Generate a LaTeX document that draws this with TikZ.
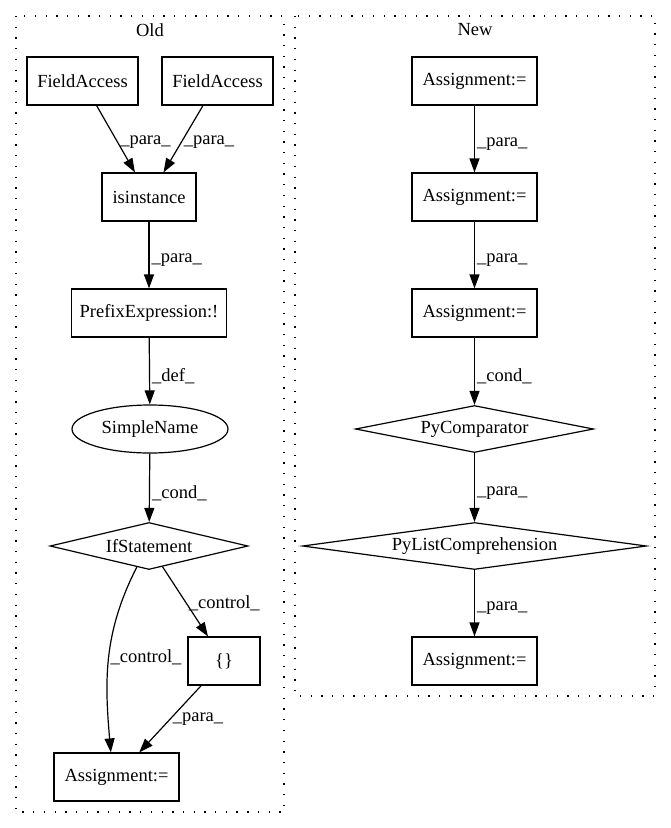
\documentclass[tikz,border=0pt]{standalone}
\usepackage{fontspec}
\setmainfont{Liberation Serif}
\usetikzlibrary{shapes.geometric,arrows.meta}
\begin{document}
\begin{tikzpicture}[x=1pt, y=-1pt, line width=1.2pt,
    font=\fontsize{18.5}{22}\selectfont,
    box/.style={draw, rectangle, minimum height=48pt, inner sep=0pt},
    cnd/.style={draw, diamond, minimum height=47pt, inner sep=0pt},
    ell/.style={draw, ellipse, minimum height=48pt, inner sep=0pt},
    lbl/.style={right, inner sep=2pt},
    flow/.style={-{Triangle[length=14pt,width=10pt]}},
    clus/.style={line width=1.3pt, dash pattern=on 1.3pt off 9.4pt}]
    \useasboundingbox (0,0) rectangle (671,828);
    \draw[clus] (16,16) rectangle (284,812);
    \draw[clus] (295,16) rectangle (655,696);
    \node (old) at (150,30) {Old};
    \node (new) at (475,30) {New};

    \node[box, minimum width=111pt] (fa1) at (82.5,81) {FieldAccess};
    \node[box, minimum width=111pt] (fa2) at (217.5,81) {FieldAccess};
    \node[box, minimum width=94pt] (isi) at (149,197) {isinstance};
    \node[box, minimum width=155pt] (pre) at (149,313) {PrefixExpression:!};
    \node[ell, minimum width=156pt] (sn) at (150,429) {SimpleName};
    \node[cnd, aspect=4.2, minimum width=198pt] (ifs) at (149,546) {IfStatement};
    \node[box, minimum width=72pt] (blk) at (224,661) {\{\}};
    \node[box, minimum width=125pt] (oasg) at (116.5,777) {Assignment:=};

    \draw[flow] (fa1) -- node[lbl, pos=0.55] {\_para\_} (isi);
    \draw[flow] (fa2) -- node[lbl, pos=0.55] {\_para\_} (isi);
    \draw[flow] (isi) -- node[lbl, pos=0.58] {\_para\_} (pre);
    \draw[flow] (pre) -- node[lbl, pos=0.58] {\_def\_} (sn);
    \draw[flow] (sn) -- node[lbl, pos=0.58] {\_cond\_} (ifs);
    \draw[flow] (ifs) -- node[lbl, pos=0.52] {\_control\_} (blk);
    \draw[flow] (ifs.240) to[out=243, in=95] node[lbl, pos=0.5, inner sep=1pt] {\_control\_} (oasg.103);
    \draw[flow] (blk) -- node[lbl, pos=0.5] {\_para\_} (oasg);

    \node[box, minimum width=125pt] (a1) at (474.5,81) {Assignment:=};
    \node[box, minimum width=125pt] (a2) at (474.5,197) {Assignment:=};
    \node[box, minimum width=125pt] (a3) at (474.5,313) {Assignment:=};
    \node[cnd, aspect=5, minimum width=238pt] (cmp) at (474.5,429) {PyComparator};
    \node[cnd, aspect=7.3, minimum width=344pt] (lc) at (474.5,546) {PyListComprehension};
    \node[box, minimum width=125pt] (a4) at (474.5,661) {Assignment:=};

    \draw[flow] (a1) -- node[lbl, pos=0.58] {\_para\_} (a2);
    \draw[flow] (a2) -- node[lbl, pos=0.58] {\_para\_} (a3);
    \draw[flow] (a3) -- node[lbl, pos=0.58] {\_cond\_} (cmp);
    \draw[flow] (cmp) -- node[lbl, pos=0.58] {\_para\_} (lc);
    \draw[flow] (lc) -- node[lbl, pos=0.58] {\_para\_} (a4);
\end{tikzpicture}
\end{document}
